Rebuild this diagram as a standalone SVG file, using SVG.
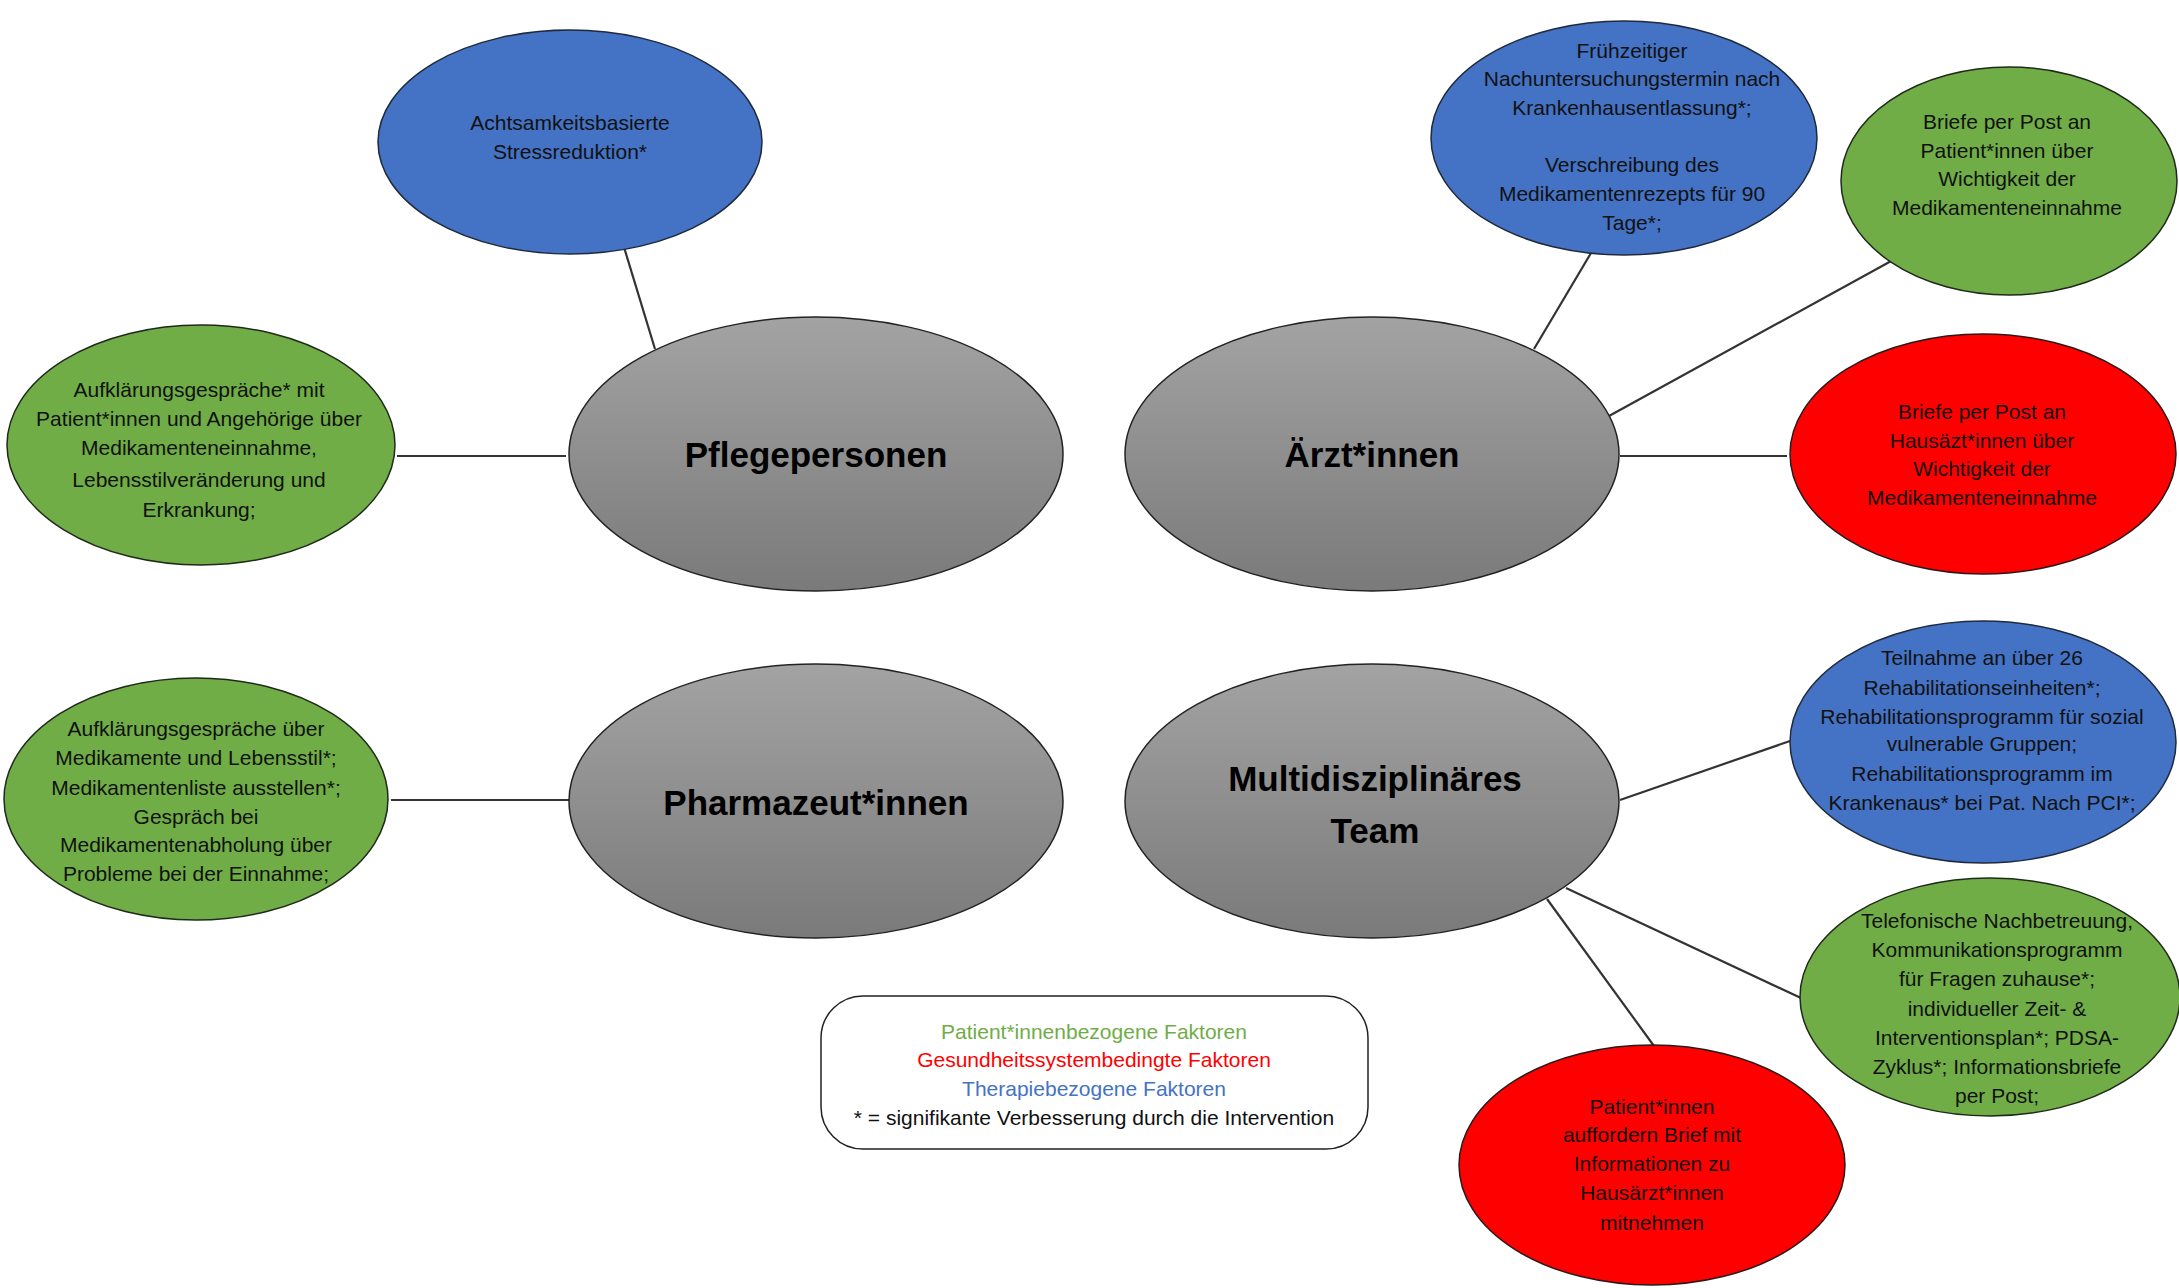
<svg xmlns="http://www.w3.org/2000/svg" width="2179" height="1288" viewBox="0 0 2179 1288">
<defs>
<linearGradient id="gray" x1="0" y1="0" x2="0" y2="1">
<stop offset="0" stop-color="#a3a3a3"/>
<stop offset="1" stop-color="#7a7a7a"/>
</linearGradient>
<style>
.blue{fill:#4472c4;stroke:#1f2a3a;stroke-width:1.5}
.green{fill:#70ad47;stroke:#1f2a1a;stroke-width:1.5}
.red{fill:#ff0000;stroke:#2a1a1a;stroke-width:1.5}
.hub{fill:url(#gray);stroke:#222;stroke-width:1.5}
.t{font-family:"Liberation Sans",Arial,sans-serif;font-size:21px;fill:#111;text-anchor:middle;dominant-baseline:central}
.h{font-family:"Liberation Sans",Arial,sans-serif;font-size:35px;font-weight:bold;fill:#000;text-anchor:middle;dominant-baseline:central}
.l{font-family:"Liberation Sans",Arial,sans-serif;font-size:21px;text-anchor:middle;dominant-baseline:central}
.c line{stroke:#333;stroke-width:2.2}
</style>
</defs>
<rect width="2179" height="1288" fill="#fff"/>
<g class="c" id="connectors">
<line x1="613" y1="211" x2="655" y2="349"/>
<line x1="397" y1="456" x2="566" y2="456"/>
<line x1="1534" y1="349" x2="1591" y2="253"/>
<line x1="1609" y1="416" x2="1893" y2="260"/>
<line x1="1620" y1="456" x2="1787" y2="456"/>
<line x1="391" y1="800" x2="570" y2="800"/>
<line x1="1620" y1="800" x2="1790" y2="741"/>
<line x1="1566" y1="888" x2="1801" y2="998"/>
<line x1="1547" y1="899" x2="1654" y2="1046"/>
</g>
<g id="n-achtsamkeit">
<ellipse class="blue" cx="570" cy="142" rx="192" ry="112"/>
<text class="t"><tspan x="570" y="122">Achtsamkeitsbasierte</tspan><tspan x="570" y="151">Stressreduktion*</tspan></text>
</g>
<g id="n-aufklaerung-pflege">
<ellipse class="green" cx="201" cy="445" rx="194" ry="120"/>
<text class="t"><tspan x="199" y="389">Aufklärungsgespräche* mit</tspan><tspan x="199" y="418">Patient*innen und Angehörige über</tspan><tspan x="199" y="447">Medikamenteneinnahme,</tspan><tspan x="199" y="479">Lebensstilveränderung und</tspan><tspan x="199" y="509">Erkrankung;</tspan></text>
</g>
<g id="n-pflege">
<ellipse class="hub" cx="816" cy="454" rx="247" ry="137"/>
<text class="h" x="816" y="454">Pflegepersonen</text>
</g>
<g id="n-aerzt">
<ellipse class="hub" cx="1372" cy="454" rx="247" ry="137"/>
<text class="h" x="1372" y="454">Ärzt*innen</text>
</g>
<g id="n-fruehzeitig">
<ellipse class="blue" cx="1624" cy="138" rx="193" ry="117"/>
<text class="t"><tspan x="1632" y="50">Frühzeitiger</tspan><tspan x="1632" y="78">Nachuntersuchungstermin nach</tspan><tspan x="1632" y="107">Krankenhausentlassung*;</tspan><tspan x="1632" y="164">Verschreibung des</tspan><tspan x="1632" y="193">Medikamentenrezepts für 90</tspan><tspan x="1632" y="222">Tage*;</tspan></text>
</g>
<g id="n-briefe-patient">
<ellipse class="green" cx="2009" cy="181" rx="168" ry="114"/>
<text class="t"><tspan x="2007" y="121">Briefe per Post an</tspan><tspan x="2007" y="150">Patient*innen über</tspan><tspan x="2007" y="178">Wichtigkeit der</tspan><tspan x="2007" y="207">Medikamenteneinnahme</tspan></text>
</g>
<g id="n-briefe-hausarzt">
<ellipse class="red" cx="1983" cy="454" rx="193" ry="120"/>
<text class="t"><tspan x="1982" y="411">Briefe per Post an</tspan><tspan x="1982" y="440">Hausäzt*innen über</tspan><tspan x="1982" y="468">Wichtigkeit der</tspan><tspan x="1982" y="497">Medikamenteneinnahme</tspan></text>
</g>
<g id="n-aufklaerung-pharma">
<ellipse class="green" cx="196" cy="799" rx="192" ry="121"/>
<text class="t"><tspan x="196" y="728">Aufklärungsgespräche über</tspan><tspan x="196" y="757">Medikamente und Lebensstil*;</tspan><tspan x="196" y="787">Medikamentenliste ausstellen*;</tspan><tspan x="196" y="816">Gespräch bei</tspan><tspan x="196" y="844">Medikamentenabholung über</tspan><tspan x="196" y="873">Probleme bei der Einnahme;</tspan></text>
</g>
<g id="n-pharma">
<ellipse class="hub" cx="816" cy="801" rx="247" ry="137"/>
<text class="h" x="816" y="802">Pharmazeut*innen</text>
</g>
<g id="n-multi">
<ellipse class="hub" cx="1372" cy="801" rx="247" ry="137"/>
<text class="h"><tspan x="1375" y="778">Multidisziplinäres</tspan><tspan x="1375" y="830">Team</tspan></text>
</g>
<g id="n-teilnahme">
<ellipse class="blue" cx="1983" cy="742" rx="193" ry="121"/>
<text class="t"><tspan x="1982" y="657">Teilnahme an über 26</tspan><tspan x="1982" y="687">Rehabilitationseinheiten*;</tspan><tspan x="1982" y="716">Rehabilitationsprogramm für sozial</tspan><tspan x="1982" y="743">vulnerable Gruppen;</tspan><tspan x="1982" y="773">Rehabilitationsprogramm im</tspan><tspan x="1982" y="802">Krankenaus* bei Pat. Nach PCI*;</tspan></text>
</g>
<g id="n-telefon">
<ellipse class="green" cx="1990" cy="997" rx="190" ry="119"/>
<text class="t"><tspan x="1997" y="920">Telefonische Nachbetreuung,</tspan><tspan x="1997" y="949">Kommunikationsprogramm</tspan><tspan x="1997" y="978">für Fragen zuhause*;</tspan><tspan x="1997" y="1008">individueller Zeit- &amp;</tspan><tspan x="1997" y="1037">Interventionsplan*; PDSA-</tspan><tspan x="1997" y="1066">Zyklus*; Informationsbriefe</tspan><tspan x="1997" y="1095">per Post;</tspan></text>
</g>
<g id="n-brief-mitnehmen">
<ellipse class="red" cx="1652" cy="1165" rx="193" ry="120"/>
<text class="t"><tspan x="1652" y="1106">Patient*innen</tspan><tspan x="1652" y="1134">auffordern Brief mit</tspan><tspan x="1652" y="1163">Informationen zu</tspan><tspan x="1652" y="1192">Hausärzt*innen</tspan><tspan x="1652" y="1222">mitnehmen</tspan></text>
</g>
<g id="legend">
<rect x="821" y="996" width="547" height="153" rx="42" ry="42" fill="#fff" stroke="#222" stroke-width="1.5"/>
<text class="l" x="1094" y="1031" fill="#70ad47">Patient*innenbezogene Faktoren</text>
<text class="l" x="1094" y="1059" fill="#ff0000">Gesundheitssystembedingte Faktoren</text>
<text class="l" x="1094" y="1088" fill="#4472c4">Therapiebezogene Faktoren</text>
<text class="l" x="1094" y="1117" fill="#111">* = signifikante Verbesserung durch die Intervention</text>
</g>
</svg>
